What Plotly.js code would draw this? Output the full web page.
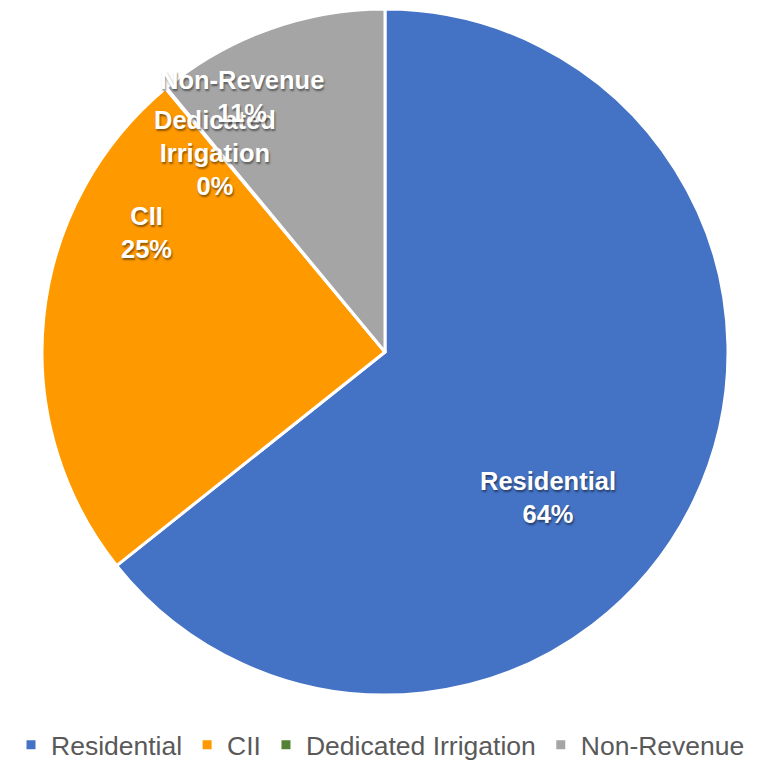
<!DOCTYPE html>
<html>
<head>
<meta charset="utf-8">
<script src="https://cdn.plot.ly/plotly-3.0.1.min.js"></script>
<style>html,body{margin:0;padding:0;background:#fff;}#chart{width:761px;height:761px;}</style>
</head>
<body>
<div id="chart"></div>
<script>
// Data
const categories = ["Residential", "CII", "Dedicated Irrigation", "Non-Revenue"];
const values = [64.3, 24.65, 0.05, 11.0];
const colors = ["#4472C4", "#FF9900", "#548235", "#A5A5A5"];

// label layout (paper coordinates for label centres)
const labelX = [0.720, 0.192, 0.283, 0.318];
const labelY = [0.3466, 0.695, 0.799, 0.873];

const total = values.reduce((a, b) => a + b, 0);
const labelText = categories.map((c, i) => {
  const name = (c === "Dedicated Irrigation") ? c.replace(" ", "<br>") : c;
  return name + "<br>" + Math.round(values[i] / total * 100) + "%";
});

const trace = {
  type: "pie",
  labels: categories,
  values: values,
  sort: false,
  direction: "clockwise",
  rotation: 0,
  marker: { colors: colors, line: { color: "#FFFFFF", width: 3 } },
  textinfo: "none",
  hoverinfo: "label+percent",
  domain: { x: [42 / 761, 728 / 761], y: [66 / 761, 752 / 761] }
};

const annotations = labelText.map((t, i) => ({
  text: t,
  xref: "paper", yref: "paper",
  x: labelX[i], y: labelY[i],
  xanchor: "center", yanchor: "middle",
  showarrow: false,
  font: { family: "Liberation Sans, Arial, sans-serif", size: 25.5, color: "#FFFFFF", weight: "bold",
          shadow: "1px 2px 2px rgba(0,0,0,0.45)" }
}));

const layout = {
  width: 761, height: 761,
  margin: { l: 0, r: 0, t: 0, b: 0, autoexpand: false },
  paper_bgcolor: "#FFFFFF",
  showlegend: true,
  legend: {
    orientation: "h",
    x: 0.5, xanchor: "center",
    y: 0.021, yanchor: "middle",
    font: { family: "Liberation Sans, Arial, sans-serif", size: 26.5, color: "#595959" },
    itemwidth: 30,
    traceorder: "normal"
  },
  annotations: annotations
};

Plotly.newPlot("chart", [trace], layout, { displayModeBar: false, staticPlot: true });
</script>
</body>
</html>
